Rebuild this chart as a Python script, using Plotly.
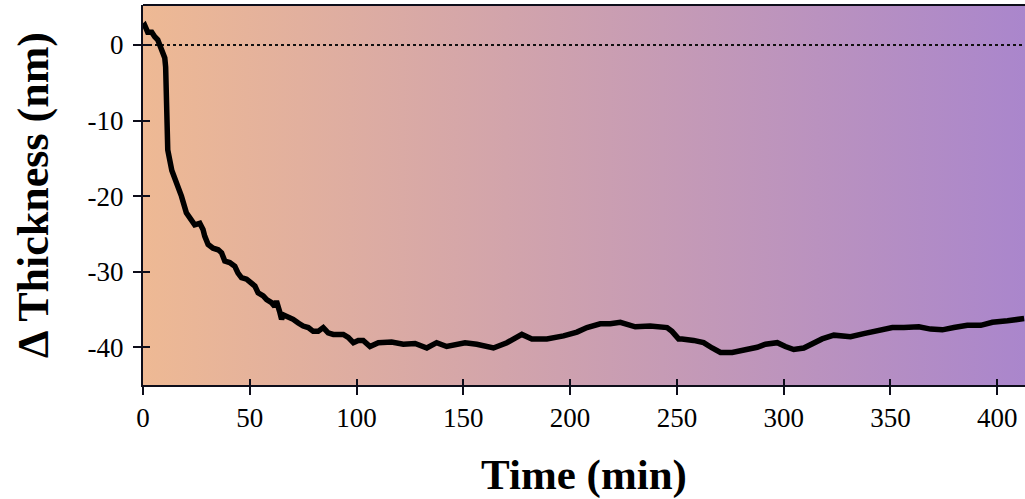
import plotly.graph_objects as go

# Data
time_min = [0, 0.8, 2.2, 4.1, 5.5, 6.9, 8.8, 10.2, 10.6, 11.1, 11.6, 13.5, 15.8, 18.0,
            20.3, 22.7, 24.2, 26.6, 28.1, 28.9, 30.5, 32.8, 35.2, 36.8, 38.3, 40.6, 43.0,
            44.5, 46.1, 48.5, 50.8, 52.4, 53.9, 56.3, 57.9, 60.2, 61.7, 62.5, 64.1, 64.9,
            65.6, 67.2, 70.3, 72.7, 75.0, 77.4, 79.7, 82.0, 84.4, 86.7, 89.1, 93.8, 96.1,
            98.5, 100.8, 103.1, 106.3, 110.2, 116.4, 121.9, 127.4, 132.9, 137.5, 142.2,
            150.8, 156.3, 164.1, 170.4, 177.4, 182.1, 189.1, 196.9, 203.2, 207.9, 214.1,
            218.8, 223.5, 230.5, 237.5, 245.4, 247.7, 250.8, 252.4, 257.8, 262.5, 266.5,
            270.4, 275.9, 282.9, 287.6, 291.5, 297.0, 300.8, 304.7, 309.4, 314.1, 318.0,
            323.5, 331.3, 337.5, 343.8, 350.9, 356.3, 363.3, 368.8, 374.3, 379.7, 386.0,
            392.3, 397.7, 404.8, 412.6]
thickness_nm = [2.4, 2.6, 1.7, 1.7, 1.1, 0.7, -0.7, -1.7, -2.9, -7.3, -13.9, -16.6, -18.3, -20.0,
                -22.2, -23.1, -23.8, -23.6, -24.4, -25.3, -26.4, -26.9, -27.1, -27.5, -28.6, -28.8, -29.3,
                -30.2, -30.8, -31.0, -31.5, -31.9, -32.8, -33.2, -33.7, -34.1, -34.6, -33.9, -35.4, -36.3,
                -35.7, -35.9, -36.3, -36.8, -37.2, -37.4, -37.9, -37.9, -37.4, -38.1, -38.3, -38.3, -38.7,
                -39.4, -39.1, -39.1, -39.9, -39.4, -39.3, -39.6, -39.5, -40.1, -39.4, -39.9,
                -39.4, -39.6, -40.1, -39.4, -38.3, -38.9, -38.9, -38.5, -38.0, -37.4, -36.9,
                -36.9, -36.7, -37.3, -37.2, -37.4, -37.9, -38.9, -38.9, -39.1, -39.4, -40.1,
                -40.7, -40.7, -40.3, -40.0, -39.6, -39.4, -39.9, -40.3, -40.1, -39.4, -38.9,
                -38.4, -38.6, -38.2, -37.9, -37.4, -37.4, -37.3, -37.6, -37.7, -37.4, -37.1,
                -37.1, -36.7, -36.5, -36.2]

x_ticks = [0, 50, 100, 150, 200, 250, 300, 350, 400]
y_ticks = [0, -10, -20, -30, -40]
x_range = [0, 413]
y_range = [-45, 5.3]
zero_line = [0, 0]

LEFT_COLOR = "#EEB994"
RIGHT_COLOR = "#AA86CC"
FONT = "Liberation Serif"

fig = go.Figure()

# gradient background rectangle
fig.add_trace(go.Scatter(
    x=[x_range[0], x_range[1], x_range[1], x_range[0], x_range[0]],
    y=[y_range[0], y_range[0], y_range[1], y_range[1], y_range[0]],
    mode="lines", line=dict(width=0), fill="toself",
    fillgradient=dict(type="horizontal", colorscale=[[0, LEFT_COLOR], [1, RIGHT_COLOR]]),
    hoverinfo="skip", showlegend=False,
))

# dotted zero reference
fig.add_trace(go.Scatter(
    x=x_range, y=zero_line, mode="lines",
    line=dict(color="#111111", width=2, dash="dot"),
    showlegend=False, hoverinfo="skip",
))

# data line
fig.add_trace(go.Scatter(
    x=time_min, y=thickness_nm, mode="lines",
    line=dict(color="black", width=5.5),
    showlegend=False,
))

# dummy trace on overlay axes for inside ticks
fig.add_trace(go.Scatter(
    x=x_range, y=zero_line, mode="lines", line=dict(width=0),
    xaxis="x2", yaxis="y2", showlegend=False, hoverinfo="skip",
))

axis_line_color = "#0d0d1a"
fig.update_layout(
    width=1025, height=499,
    margin=dict(l=143, r=0, t=5, b=114),
    paper_bgcolor="white", plot_bgcolor="white",
    font=dict(family=FONT, color="black"),
    xaxis=dict(
        range=x_range, tickvals=x_ticks, ticktext=[str(v) for v in x_ticks],
        ticks="outside", ticklen=8, tickwidth=2, tickcolor=axis_line_color,
        showline=True, linewidth=2, linecolor=axis_line_color,
        showgrid=False, zeroline=False,
        tickfont=dict(family=FONT, size=27, color="black"),
        title=dict(text="<b>Time (min)</b>", font=dict(family=FONT, size=43, color="black"), standoff=31),
    ),
    yaxis=dict(
        range=y_range, tickvals=y_ticks, ticktext=[str(v) for v in y_ticks],
        ticks="outside", ticklen=8, tickwidth=2, tickcolor=axis_line_color,
        showline=True, linewidth=2, linecolor=axis_line_color,
        showgrid=False, zeroline=False, ticklabelstandoff=4,
        tickfont=dict(family=FONT, size=27, color="black"),
        title=dict(text="<b>Δ Thickness (nm)</b>", font=dict(family=FONT, size=44, color="black"), standoff=25),
    ),
    xaxis2=dict(
        range=x_range, overlaying="x", side="bottom", tickvals=x_ticks,
        ticks="inside", ticklen=6, tickwidth=2, tickcolor=axis_line_color,
        showticklabels=False, showline=False, showgrid=False, zeroline=False,
    ),
    yaxis2=dict(
        range=y_range, overlaying="y", side="left", tickvals=y_ticks,
        ticks="inside", ticklen=7, tickwidth=2, tickcolor=axis_line_color,
        showticklabels=False, showline=False, showgrid=False, zeroline=False,
    ),
    shapes=[dict(type="line", xref="paper", yref="paper", x0=0, x1=1, y0=1, y1=1,
                 line=dict(color=axis_line_color, width=2), layer="above")],
)

fig.write_html("out.html")
